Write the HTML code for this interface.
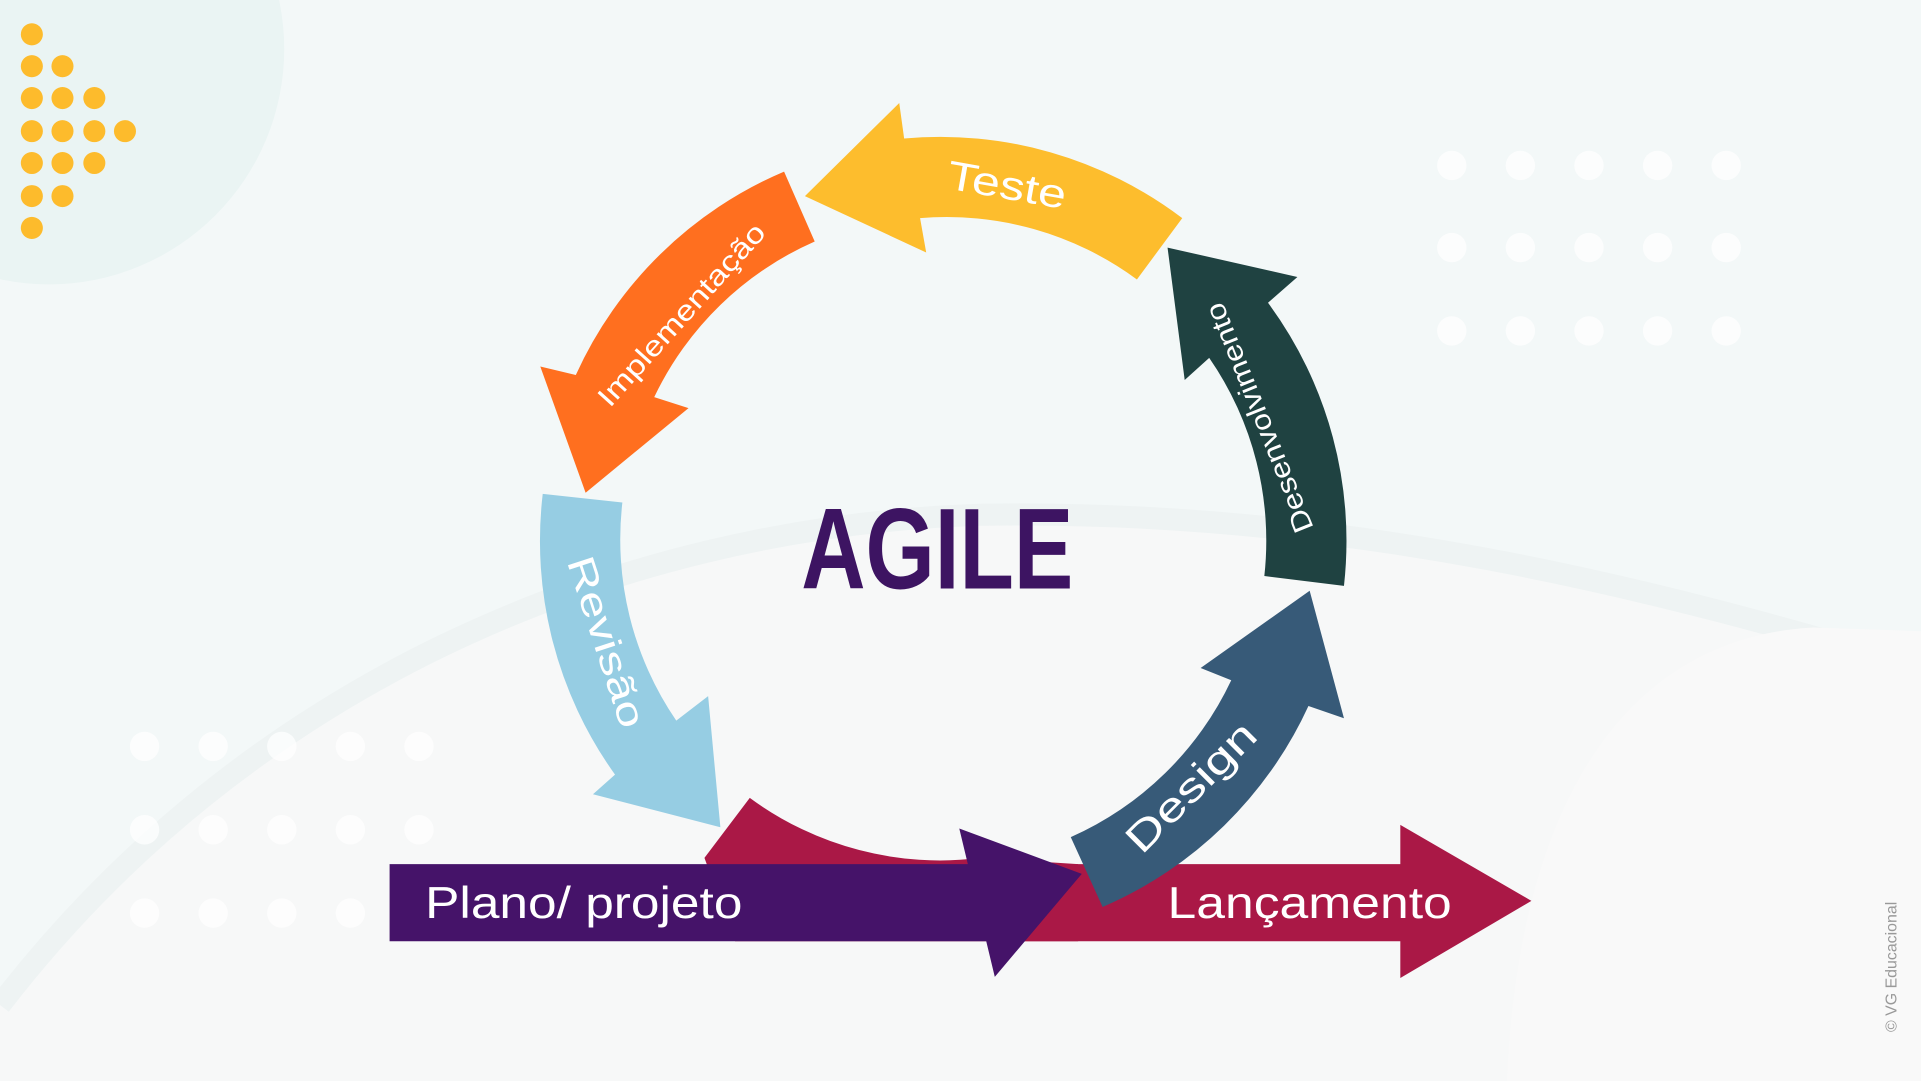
<!DOCTYPE html>
<html><head><meta charset="utf-8"><style>
html,body{margin:0;padding:0;width:1921px;height:1081px;overflow:hidden;background:#f3f8f8}
svg{display:block}
text{font-family:"Liberation Sans",sans-serif}
</style></head><body>
<svg width="1921" height="1081" viewBox="0 0 1568 882" preserveAspectRatio="none" xmlns="http://www.w3.org/2000/svg">
<rect width="1568" height="882" fill="#f3f8f8"/>
<circle cx="40" cy="40" r="192" fill="#eaf4f3"/>
<path d="M0,820 C200,560 500,430 800,420 C1100,415 1350,480 1568,545 L1568,882 L0,882 Z" fill="#f7f8f8"/>
<path d="M0,820 C200,560 500,430 800,420 C1100,415 1350,480 1568,545" fill="none" stroke="#eef3f3" stroke-width="18"/>
<path d="M1230,882 C1240,650 1330,520 1480,512 L1568,515 L1568,882 Z" fill="#f9f9f9"/>
<g fill="#fdbb2c">
<circle cx="26" cy="28" r="9"/>
<circle cx="26" cy="54" r="9"/><circle cx="51" cy="54" r="9"/>
<circle cx="26" cy="80" r="9"/><circle cx="51" cy="80" r="9"/><circle cx="77" cy="80" r="9"/>
<circle cx="26" cy="107" r="9"/><circle cx="51" cy="107" r="9"/><circle cx="77" cy="107" r="9"/><circle cx="102" cy="107" r="9"/>
<circle cx="26" cy="133" r="9"/><circle cx="51" cy="133" r="9"/><circle cx="77" cy="133" r="9"/>
<circle cx="26" cy="160" r="9"/><circle cx="51" cy="160" r="9"/>
<circle cx="26" cy="186" r="9"/>
</g>
<g fill="#ffffff" opacity="0.75">
<circle cx="1185" cy="135" r="12"/><circle cx="1241" cy="135" r="12"/><circle cx="1297" cy="135" r="12"/><circle cx="1353" cy="135" r="12"/><circle cx="1409" cy="135" r="12"/>
<circle cx="1185" cy="202" r="12"/><circle cx="1241" cy="202" r="12"/><circle cx="1297" cy="202" r="12"/><circle cx="1353" cy="202" r="12"/><circle cx="1409" cy="202" r="12"/>
<circle cx="1185" cy="270" r="12"/><circle cx="1241" cy="270" r="12"/><circle cx="1297" cy="270" r="12"/><circle cx="1353" cy="270" r="12"/><circle cx="1409" cy="270" r="12"/>
<circle cx="118" cy="609" r="12"/><circle cx="174" cy="609" r="12"/><circle cx="230" cy="609" r="12"/><circle cx="286" cy="609" r="12"/><circle cx="342" cy="609" r="12"/>
<circle cx="118" cy="677" r="12"/><circle cx="174" cy="677" r="12"/><circle cx="230" cy="677" r="12"/><circle cx="286" cy="677" r="12"/><circle cx="342" cy="677" r="12"/>
<circle cx="118" cy="745" r="12"/><circle cx="174" cy="745" r="12"/><circle cx="230" cy="745" r="12"/><circle cx="286" cy="745" r="12"/>
</g>
<path d="M965,178 A327,327 0 0,0 738,113 L734,84 L657,160 L756,206 L751,178 A262,262 0 0,1 928,228 Z" fill="#fdbd2d"/>
<path d="M640,140 A327,327 0 0,0 470,306 L441,299 L478,402 L562,333 L534,324 A262,262 0 0,1 665,197 Z" fill="#ff6f1f"/>
<path d="M443,403 A327,327 0 0,0 502,632 L484,648 L588,675 L578,568 L552,588 A262,262 0 0,1 508,410 Z" fill="#96cde3"/>
<path d="M1032,470 A262,262 0 0,0 987,292 L967,310 L953,202 L1059,226 L1035,247 A327,327 0 0,1 1097,478 Z" fill="#1f4241"/>
<path d="M612,651 A262,262 0 0,0 800,700 L880,705 L880,768 L600,768 L575,700 Z" fill="#aa1846"/>
<polygon points="830,705 1143,705 1143,673 1250,735 1143,798 1143,768 830,768" fill="#aa1846"/>
<path d="M874,683 A262,262 0 0,0 1005,555 L980,545 L1069,482 L1097,586 L1068,576 A327,327 0 0,1 900,740 Z" fill="#375a78"/>
<polygon points="318,705 790,705 783,676 883,713 812,797 805,768 318,768" fill="#451369"/>
<text x="765" y="480" font-size="94" font-weight="bold" fill="#3d1462" text-anchor="middle" textLength="222" lengthAdjust="spacingAndGlyphs">AGILE</text>
<g fill="#ffffff">
<text x="0" y="0" font-size="33" text-anchor="middle" transform="translate(820,162) rotate(10)" textLength="98" lengthAdjust="spacingAndGlyphs">Teste</text>
<text x="0" y="0" font-size="23" text-anchor="middle" transform="translate(562,262) rotate(-48)" textLength="192" lengthAdjust="spacingAndGlyphs">Implementação</text>
<text x="0" y="0" font-size="31" text-anchor="middle" transform="translate(485,527) rotate(72)" textLength="145" lengthAdjust="spacingAndGlyphs">Revisão</text>
<text x="0" y="0" font-size="23" text-anchor="middle" transform="translate(1035,338) rotate(-112)" textLength="200" lengthAdjust="spacingAndGlyphs">Desenvolvimento</text>
<text x="0" y="0" font-size="33" text-anchor="middle" transform="translate(980,650) rotate(-45)" textLength="136" lengthAdjust="spacingAndGlyphs">Design</text>
<text x="347" y="749" font-size="36" textLength="259" lengthAdjust="spacingAndGlyphs">Plano/ projeto</text>
<text x="953" y="749" font-size="36" textLength="232" lengthAdjust="spacingAndGlyphs">Lançamento</text>
</g>
<text x="0" y="0" font-size="13" fill="#999" transform="translate(1548,842) rotate(-90)">© VG Educacional</text>
</svg>
</body></html>
